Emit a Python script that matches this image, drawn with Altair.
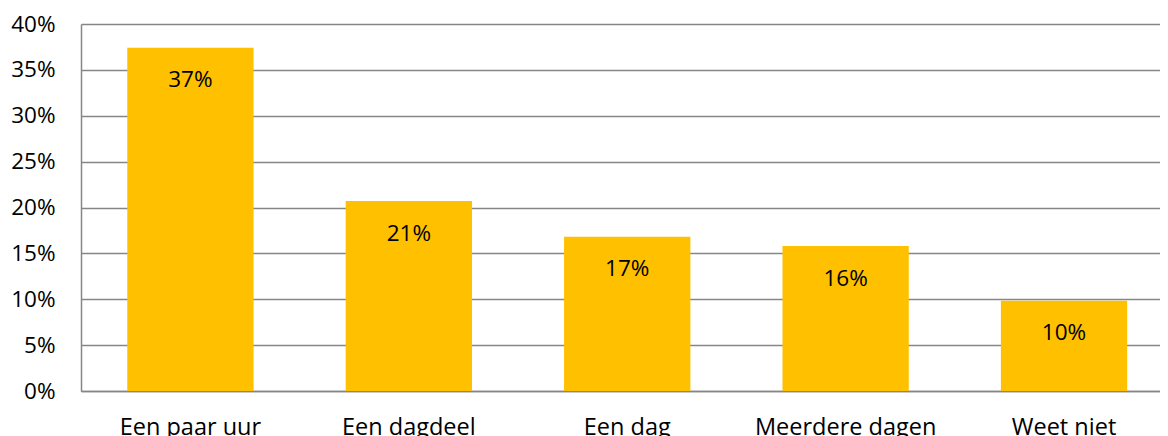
import altair as alt
import pandas as pd

categories = ["Een paar uur", "Een dagdeel", "Een dag", "Meerdere dagen", "Weet niet"]
values = [0.374, 0.207, 0.168, 0.158, 0.0985]
y_ticks = [0, 0.05, 0.10, 0.15, 0.20, 0.25, 0.30, 0.35, 0.40]

df = pd.DataFrame({"cat": categories, "val": values})

FONT = "Open Sans"
GRAY = "#868686"

x = alt.X(
    "cat:N",
    sort=categories,
    title=None,
    scale=alt.Scale(paddingInner=0.4217, paddingOuter=0.1811, align=0.585, round=False),
    axis=alt.Axis(
        labelAngle=0,
        labelFont=FONT,
        labelFontSize=23.5,
        labelColor="#000000",
        labelPadding=24,
        labelLimit=0,
        labelOverlap=False,
        ticks=False,
        domainColor=GRAY,
        domainWidth=1.5,
        grid=False,
    ),
)
y = alt.Y(
    "val:Q",
    title=None,
    scale=alt.Scale(domain=[0, 0.4], nice=False),
    axis=alt.Axis(
        values=y_ticks,
        format=".0%",
        labelFont=FONT,
        labelFontSize=22.5,
        labelColor="#000000",
        labelPadding=26,
        ticks=False,
        domainColor=GRAY,
        domainWidth=1.5,
        gridColor=GRAY,
        gridWidth=1.5,
    ),
)

bars = alt.Chart(df).mark_bar(color="#FFC000").encode(x=x, y=y)
labels = alt.Chart(df).mark_text(
    font=FONT, fontSize=22.5, color="#000000", baseline="alphabetic", dy=39.5
).encode(x=alt.X("cat:N", sort=categories), y="val:Q", text=alt.Text("val:Q", format=".0%"))

chart = (
    alt.layer(bars, labels)
    .properties(
        width=1079,
        height=367,
        autosize=alt.AutoSizeParams(type="none"),
        padding={"left": 73, "top": 16, "right": 0, "bottom": 45},
    )
    .configure_view(stroke=None)
    .configure(background="white")
)

chart.save("out.html", embed_options={"renderer": "svg", "actions": False})
